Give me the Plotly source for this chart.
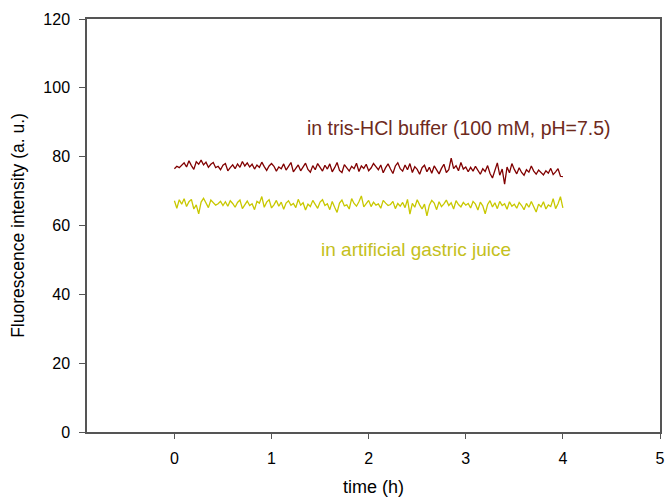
import numpy as np
import plotly.graph_objects as go

# time axis (h), 161 samples from 0 to 4
time_h = [round(i * 0.025, 3) for i in range(161)]

tris_buffer = [
    76.5, 77.2, 76.8, 77.5, 78.2, 77.0, 78.8, 77.4, 76.3, 78.5, 77.8, 79.0, 77.6, 78.4, 76.9, 77.8, 78.3, 76.8, 77.2, 76.2, 77.5,
    78.0, 75.9, 76.8, 77.6, 76.5, 77.9, 76.9, 78.6, 77.3, 78.2, 77.0, 77.8, 76.4, 77.6, 76.9, 78.4, 77.1, 76.0, 77.3, 78.0,
    77.2, 75.8, 77.0, 76.5, 77.9, 76.1, 77.2, 78.3, 75.6, 76.8, 77.6, 75.9, 77.0, 78.1, 76.3, 75.5, 77.4, 76.2, 78.0, 76.7,
    75.8, 77.5, 76.4, 77.9, 75.6, 76.8, 78.3, 76.0, 75.4, 77.7, 76.9, 75.8, 77.2, 76.5, 78.1, 75.7, 77.3, 76.6, 77.8, 75.9,
    76.7, 78.0, 77.1, 76.2, 77.6, 75.3, 76.8, 77.9, 76.4, 75.1, 77.3, 78.2, 76.5, 75.8, 77.6, 76.2, 78.0, 75.4, 77.1, 76.3,
    74.9, 76.8, 77.5, 75.6, 76.9, 75.2, 77.3, 76.1, 75.0, 76.6, 77.8, 75.4, 76.2, 79.6, 76.5, 77.4, 75.9, 78.3, 76.4, 77.0,
    75.6, 76.9, 75.8, 77.2, 76.0, 74.9, 76.5, 75.7, 77.4, 75.1, 73.8, 76.2, 78.2, 74.6, 76.4, 72.0, 77.0, 75.3, 78.0, 76.3,
    75.0, 76.8, 75.4, 74.6, 76.2, 75.5, 77.3, 75.8, 74.9, 76.1, 75.3, 74.7, 75.9, 75.2, 76.6, 74.8, 75.6, 76.5, 74.3, 74.2,
]

gastric_juice = [
    67.2, 65.0, 67.5, 66.2, 67.8, 65.5, 66.9, 67.6, 64.8, 66.0, 63.4, 66.8, 67.9, 66.5, 65.2, 67.4, 66.6, 65.9, 66.3, 67.0, 65.8,
    66.9, 65.6, 67.2, 66.4, 65.3, 66.7, 67.4, 64.9, 66.2, 67.1, 65.8, 66.3, 64.6, 67.0, 66.5, 68.4, 65.3, 66.8, 67.5, 65.1,
    66.0, 67.3, 65.6, 66.8, 64.7, 66.5, 67.2, 65.9, 66.4, 65.2, 67.6, 65.9, 66.6, 64.5, 66.2, 65.5, 67.3, 66.0, 65.0, 66.8,
    67.5, 65.8, 66.3, 64.6, 67.0, 65.3, 63.8, 66.5, 67.4, 65.7, 66.0, 64.8, 67.8, 66.4, 65.6, 66.9, 68.6, 65.4, 66.5, 67.3,
    65.5, 66.8, 65.9, 66.3, 65.0, 67.3, 66.5, 65.8, 66.1, 67.0, 64.9, 66.4, 65.6, 66.7, 65.2, 67.6, 63.3, 66.4, 65.3, 67.5,
    66.0, 64.8, 66.2, 62.8, 65.9, 67.3, 66.5, 64.6, 66.9, 65.5, 66.3, 67.4, 65.8, 66.6, 64.8, 67.2, 66.1, 65.4, 66.7, 65.9,
    66.4, 65.1, 67.0, 66.2, 64.5, 66.8, 65.7, 63.4, 66.1, 67.2, 65.4, 66.6, 64.9, 67.0, 65.8, 66.3, 64.7, 66.9, 65.6, 66.2,
    65.0, 66.7, 65.8, 64.6, 66.4, 65.3, 67.0, 65.6, 63.9, 66.2, 65.4, 66.9, 64.8, 66.0, 65.5, 67.8, 64.9, 66.3, 68.4, 65.1,
]

x_ticks = [0, 1, 2, 3, 4, 5]
y_ticks = [0, 20, 40, 60, 80, 100, 120]

label_tris = "in tris-HCl buffer (100 mM, pH=7.5)"
label_gastric = "in artificial gastric juice"

RED = "#800000"
YEL = "#c8c800"
AXIS = "#555555"
FONT = "Liberation Sans, Arial, sans-serif"

fig = go.Figure()
fig.add_trace(go.Scatter(x=time_h, y=tris_buffer, mode="lines",
                         line=dict(color=RED, width=1.3), showlegend=False))
fig.add_trace(go.Scatter(x=time_h, y=gastric_juice, mode="lines",
                         line=dict(color=YEL, width=1.3), showlegend=False))

fig.add_annotation(x=2.93, y=88.4, text=label_tris, showarrow=False,
                   font=dict(family=FONT, size=19.5, color="#6e2a1c"))
fig.add_annotation(x=2.49, y=53.0, text=label_gastric, showarrow=False,
                   font=dict(family=FONT, size=19, color="#c4c020"))

fig.update_layout(
    width=668, height=497,
    margin=dict(l=87, r=3, t=19, b=64),
    paper_bgcolor="white", plot_bgcolor="white",
    font=dict(family=FONT, size=16, color="#000000"),
    xaxis=dict(range=[-0.9, 5], tickvals=x_ticks, ticks="outside", ticklen=5,
               tickcolor=AXIS, showline=True, linecolor=AXIS, linewidth=1.5,
               mirror=True, showgrid=False, zeroline=False,
               ticklabelstandoff=6,
               title=dict(text="time (h)", font=dict(size=18), standoff=14),
               tickfont=dict(size=16)),
    yaxis=dict(range=[0, 120], tickvals=y_ticks, ticks="outside", ticklen=6,
               tickcolor=AXIS, showline=True, linecolor=AXIS, linewidth=1.5,
               mirror=True, showgrid=False, zeroline=False,
               ticklabelstandoff=6,
               title=dict(text="Fluorescence intensity (a. u.)", font=dict(size=17.5), standoff=14),
               tickfont=dict(size=16)),
)

fig.write_html("out.html")
